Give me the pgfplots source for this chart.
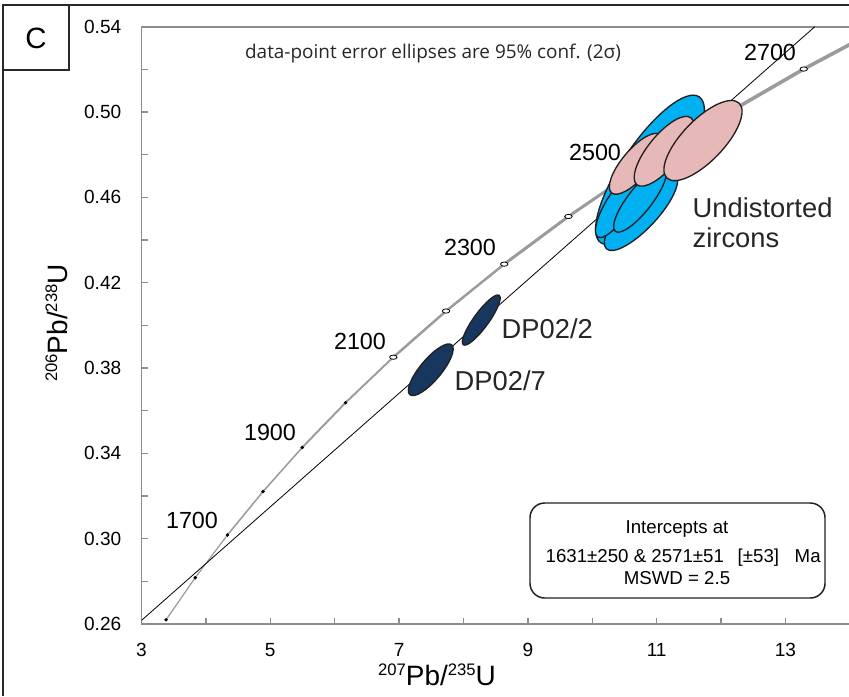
\documentclass[border=0pt]{standalone}
\usepackage{fontspec}
\setmainfont{Liberation Sans}
\newfontfamily\notefont{Open Sans}
\usepackage{pgfplots}
\pgfplotsset{compat=1.18}
\usepackage{pgfplotstable}

\definecolor{zblue}{RGB}{0,176,240}
\definecolor{zpink}{RGB}{230,184,183}
\definecolor{znavy}{RGB}{23,55,94}
\definecolor{zline}{RGB}{35,31,32}
\definecolor{cgray}{RGB}{155,155,155}
\definecolor{agray}{RGB}{140,140,140}
\definecolor{frm}{RGB}{40,40,40}

\newcommand\sups[1]{{\fontsize{12.5}{12.5}\selectfont\raisebox{7.5pt}{#1}}}

% ellipse centres (207Pb/235U, 206Pb/238U), semi-axes (pt), rotation (deg)
\pgfplotstableread{
x y a b ang
10.896 0.47296 66 21 56
10.756 0.45327 38 12.5 47
10.399 0.45655 28.5 9 58
10.741 0.45889 30 9 52
}\bluetab
\pgfplotstableread{
x y a b ang
10.679 0.47577 28.5 10.5 50
11.113 0.48163 32.25 12 51
11.719 0.48665 39 15.5 46
}\pinktab
\pgfplotstableread{
x y a b ang
8.276 0.4025 22.9 5.6 54
7.492 0.3792 24.4 7.9 50
}\navytab

\def\ra{1}\def\rb{1}\def\rang{0}
\pgfdeclareplotmark{rotellipse}{%
  \pgftransformrotate{\rang}%
  \pgfpathellipse{\pgfpointorigin}{\pgfpoint{\ra pt}{0pt}}{\pgfpoint{0pt}{\rb pt}}%
  \pgfusepathqfillstroke
}

\pgfplotsset{
  ellipses/.style={
    only marks, mark=rotellipse,
    mark options={draw=zline, fill=#1, line width=1pt},
    scatter,
    visualization depends on={\thisrow{a} \as \ra},
    visualization depends on={\thisrow{b} \as \rb},
    visualization depends on={\thisrow{ang} \as \rang},
    scatter/@pre marker code/.code={},
    scatter/@post marker code/.code={},
  }
}

\begin{document}
\begin{tikzpicture}
\path[use as bounding box] (0pt,0pt) rectangle (636.75pt,-522pt);

\begin{axis}[
  at={(106.125pt,-468pt)}, anchor=south west,
  scale only axis, width=533.7pt, height=447.9pt,
  xmin=3, xmax=14.05, ymin=0.26, ymax=0.54,
  xtick={3,5,7,9,11,13}, minor xtick={4,6,8,10,12,14},
  ytick={0.26,0.30,0.34,0.38,0.42,0.46,0.50,0.54},
  minor ytick={0.28,0.32,0.36,0.40,0.44,0.48,0.52},
  tick pos=left, tick align=inside,
  major tick length=4.5pt, minor tick length=4.5pt,
  axis line style={agray, line width=1.1pt},
  every tick/.style={agray, line width=1pt},
  /pgf/number format/assume math mode=true,
  ticklabel style={font=\fontsize{14.3}{14.3}\selectfont, text=black},
  yticklabel style={/pgf/number format/fixed, /pgf/number format/fixed zerofill, /pgf/number format/precision=2, inner sep=0pt, xshift=-15pt},
  xticklabel style={inner sep=0pt, yshift=-14pt},
]
% concordia curve (ages 1500-2800 Ma)
\addplot[cgray, line width=0.9pt, line cap=round] coordinates {(3.3812,0.26197)(3.8344,0.28172)(4.3348,0.30175)};
\addplot[cgray, line width=1.15pt, line cap=round] coordinates {(4.3348,0.30175)(4.8867,0.32210)(5.4962,0.34277)};
\addplot[cgray, line width=1.45pt, line cap=round] coordinates {(5.4962,0.34277)(6.1684,0.36377)(6.9105,0.38509)};
\addplot[cgray, line width=1.85pt, line cap=round] coordinates {(6.9105,0.38509)(7.7292,0.40674)(8.6326,0.42873)};
\addplot[cgray, line width=2.25pt, line cap=round] coordinates {(8.6326,0.42873)(9.6296,0.45107)(10.7297,0.47375)};
\addplot[cgray, line width=2.7pt, line cap=round] coordinates {(10.7297,0.47375)(11.9437,0.49679)(13.2834,0.52019)(14.7617,0.54397)};
% discordia
\addplot[black, line width=0.6pt] coordinates {(3,0.26170)(13.454,0.54)};
% age ticks
\addplot[only marks, mark=*, mark size=1.1pt, black] coordinates {(3.3812,0.26197)(3.8344,0.28172)(4.3348,0.30175)(4.8867,0.32210)(5.4962,0.34277)(6.1684,0.36377)};
\addplot[only marks, mark=*, mark size=2pt, mark options={fill=white, draw=black, line width=0.6pt, xscale=1.4, yscale=0.8}] coordinates {(6.9105,0.38509)(7.7292,0.40674)(8.6326,0.42873)(9.6296,0.45107)(10.7297,0.47375)(11.9437,0.49679)(13.2834,0.52019)};
% error ellipses
\addplot[ellipses=znavy] table {\navytab};
\addplot[ellipses=zblue] table {\bluetab};
\addplot[ellipses=zpink] table {\pinktab};
\end{axis}

\begin{scope}[x=0.75pt, y=-0.75pt]
\draw[frm, line width=1.6pt] (3,696) -- (3,5) -- (849,5);
\draw[frm, line width=1.6pt] (3,70) -- (69,70) -- (69,5);
\node[font=\fontsize{22}{22}\selectfont] at (36,38) {C};
\node[font=\notefont\fontsize{14.2}{14.5}\selectfont, anchor=base, text=black!85] at (433,58) {data-point error ellipses are 95\% conf. (2σ)};
\begin{scope}[every node/.style={font=\fontsize{17.5}{17.5}\selectfont}]
\node at (192,520) {1700};
\node at (270,432) {1900};
\node at (360,341) {2100};
\node at (470,247) {2300};
\node at (595,152) {2500};
\node at (770,52) {2700};
\end{scope}
\begin{scope}[every node/.style={font=\fontsize{20.5}{20.5}\selectfont, anchor=base west, text=black!85}]
\node at (497,338) {DP02/2};
\node at (450,390) {DP02/7};
\node at (688,217) {Undistorted};
\node at (688,247) {zircons};
\end{scope}
\draw[zline, line width=1.1pt, rounded corners=11pt] (530,503) rectangle (825,598);
\begin{scope}[every node/.style={font=\fontsize{14}{14}\selectfont}]
\node[anchor=base] at (677,533) {Intercepts at};
\node[anchor=base west] at (541,562) {1631±250 \& 2571±51};
\node[anchor=base west] at (733,562) {[±53]};
\node[anchor=base west] at (790,562) {Ma};
\node[anchor=base] at (677,584) {MSWD = 2.5};
\end{scope}
\node[anchor=base, font=\fontsize{21}{21}\selectfont] at (437,685) {\sups{207}Pb/\sups{235}U};
\node[anchor=base, rotate=90, font=\fontsize{21}{21}\selectfont] at (67,323) {\sups{206}Pb/\sups{238}U};
\end{scope}
\end{tikzpicture}
\end{document}
